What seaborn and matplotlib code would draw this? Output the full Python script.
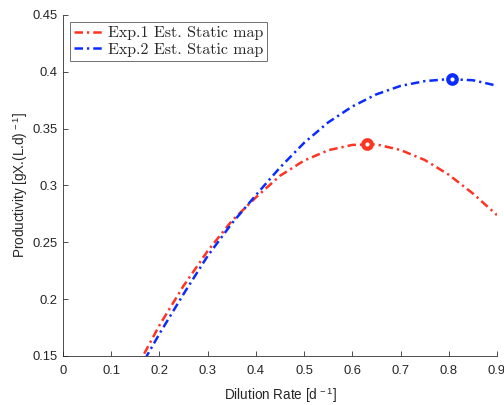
import matplotlib
matplotlib.use("Agg")
import matplotlib.pyplot as plt
import seaborn as sns
import pandas as pd

# Dilution rate grid [1/d]
dilution = [0.15, 0.20, 0.25, 0.30, 0.35, 0.40, 0.45, 0.50, 0.55, 0.60,
            0.65, 0.70, 0.75, 0.80, 0.85, 0.90]

# Estimated static maps of productivity [gX/(L.d)]
prod_exp1 = [0.1375, 0.1770, 0.2117, 0.2424, 0.2688, 0.2895, 0.3085, 0.3219,
             0.3310, 0.3357, 0.3362, 0.3312, 0.3225, 0.3095, 0.2930, 0.2740]
prod_exp2 = [0.1325, 0.1695, 0.2045, 0.2380, 0.2665, 0.2915, 0.3158, 0.3375,
             0.3555, 0.3695, 0.3802, 0.3876, 0.3918, 0.3936, 0.3926, 0.3878]

# Optimal operating points (maximum productivity)
opt_exp1 = (0.63, 0.3365)
opt_exp2 = (0.807, 0.3937)

labels = ["Exp.1 Est. Static map", "Exp.2 Est. Static map"]
colors = ["#ff3322", "#0a2cff"]

xticks = [0, 0.1, 0.2, 0.3, 0.4, 0.5, 0.6, 0.7, 0.8, 0.9]
xticklabels = ["0", "0.1", "0.2", "0.3", "0.4", "0.5", "0.6", "0.7", "0.8", "0.9"]
yticks = [0.15, 0.2, 0.25, 0.3, 0.35, 0.4, 0.45]
yticklabels = ["0.15", "0.2", "0.25", "0.3", "0.35", "0.4", "0.45"]

sns.set_style("ticks")
plt.rcParams["font.family"] = ["Liberation Sans", "DejaVu Sans"]
plt.rcParams["mathtext.fontset"] = "custom"
plt.rcParams["mathtext.rm"] = "Liberation Sans"
plt.rcParams["mathtext.it"] = "Liberation Sans"
plt.rcParams["xtick.direction"] = "in"
plt.rcParams["ytick.direction"] = "in"

df = pd.DataFrame({
    "D": dilution * 2,
    "P": prod_exp1 + prod_exp2,
    "series": [labels[0]] * len(dilution) + [labels[1]] * len(dilution),
})

fig = plt.figure(figsize=(7.0, 5.625), dpi=72)
ax = fig.add_axes([0.125, 0.121, 0.861, 0.842])

for lab, col in zip(labels, colors):
    sub = df[df["series"] == lab]
    sns.lineplot(data=sub, x="D", y="P", ax=ax, color=col, linewidth=2.5,
                 linestyle="-.", label=lab, sort=True)
    ax.lines[-1].set_dashes([3.4, 1.6, 0.9, 1.6])

for (xo, yo), col in zip([opt_exp1, opt_exp2], colors):
    ax.plot([xo], [yo], marker="o", markersize=8.5, markerfacecolor="white",
            markeredgecolor=col, markeredgewidth=4.2, linestyle="none", zorder=5)

ax.set_xlim(0, 0.9)
ax.set_ylim(0.15, 0.45)
ax.set_xticks(xticks)
ax.set_xticklabels(xticklabels)
ax.set_yticks(yticks)
ax.set_yticklabels(yticklabels)
ax.tick_params(axis="both", labelsize=13, colors="#262626", length=5,
               width=0.8)
ax.tick_params(axis="x", pad=9)
ax.tick_params(axis="y", pad=5)
sns.despine(ax=ax)
for side in ("left", "bottom"):
    ax.spines[side].set_color("#262626")
    ax.spines[side].set_linewidth(0.8)

ax.set_xlabel(r"Dilution Rate [d$^{\,-1}$]", fontsize=13.5, color="#262626",
              labelpad=8)
ax.set_ylabel(r"Productivity [gX.(L.d)$^{\,-1}$]", fontsize=13.5,
              color="#262626", labelpad=3)

leg = ax.legend(loc="upper left", bbox_to_anchor=(0.016, 0.979),
                prop={"family": "cmr10", "size": 16},
                frameon=True, fancybox=False, edgecolor="#262626",
                handlelength=1.9, handletextpad=0.2, borderpad=0.25,
                labelspacing=0.15, borderaxespad=0.0)
leg.get_frame().set_linewidth(0.8)

fig.savefig("out.png", dpi=72)
